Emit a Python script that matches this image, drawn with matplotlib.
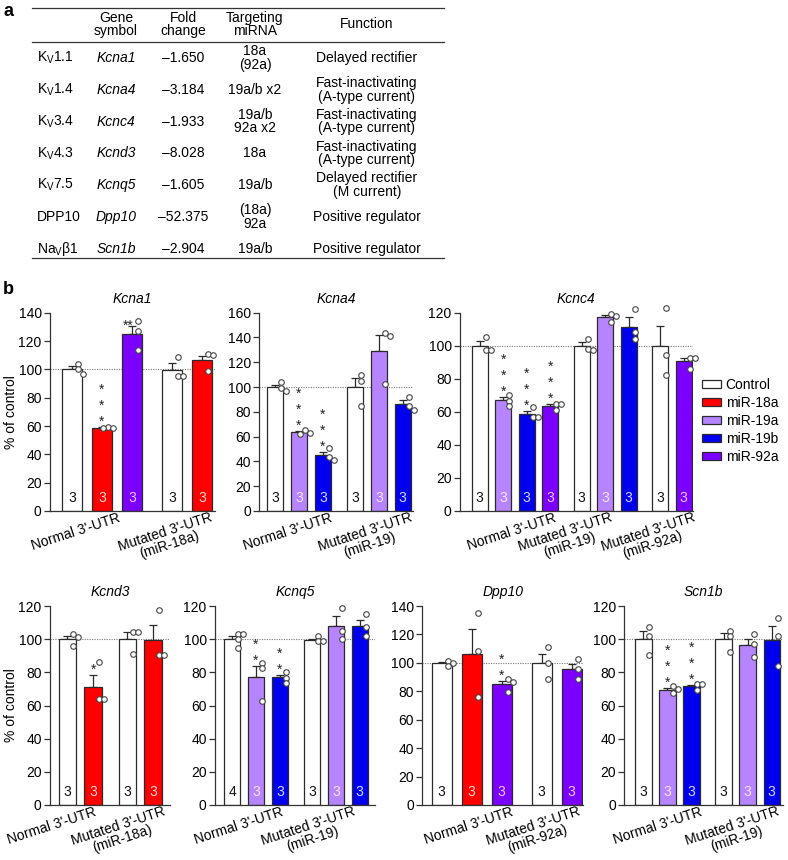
import numpy as np
import matplotlib
matplotlib.use('Agg')
import matplotlib.pyplot as plt
from matplotlib.patches import Patch
from matplotlib.lines import Line2D
from matplotlib.transforms import ScaledTranslation

plt.rcParams['font.family'] = ['Liberation Sans', 'DejaVu Sans']
plt.rcParams['mathtext.default'] = 'regular'
plt.rcParams['font.size'] = 10

# ---------------- panel a: table data ----------------
table_header = ['Gene\nsymbol', 'Fold\nchange', 'Targeting\nmiRNA', 'Function']
channels = ['K$_V$1.1', 'K$_V$1.4', 'K$_V$3.4', 'K$_V$4.3', 'K$_V$7.5', 'DPP10', 'Na$_V$\u03b21']
genes = ['Kcna1', 'Kcna4', 'Kcnc4', 'Kcnd3', 'Kcnq5', 'Dpp10', 'Scn1b']
fold_change = [-1.650, -3.184, -1.933, -8.028, -1.605, -52.375, -2.904]
targeting = ['18a\n(92a)', '19a/b x2', '19a/b\n92a x2', '18a', '19a/b', '(18a)\n92a', '19a/b']
functions = ['Delayed rectifier', 'Fast-inactivating\n(A-type current)',
             'Fast-inactivating\n(A-type current)', 'Fast-inactivating\n(A-type current)',
             'Delayed rectifier\n(M current)', 'Positive regulator', 'Positive regulator']

# ---------------- panel b: bar data ----------------
legend_labels = ['Control', 'miR-18a', 'miR-19a', 'miR-19b', 'miR-92a']

kcna1_groups = ["Normal 3'-UTR", "Mutated 3'-UTR\n(miR-18a)"]
kcna1_conds = [['Control', 'miR-18a', 'miR-92a'], ['Control', 'miR-18a']]
kcna1_mean = [100, 58.8, 125, 99.7, 106.5]
kcna1_err = [2.4, 0.6, 5.6, 4.7, 2.8]
kcna1_pts = [[104, 100, 97], [59.3, 58.8, 58.4], [134, 127, 114], [109, 95, 95], [111, 110, 98.5]]
kcna1_n = [3, 3, 3, 3, 3]
kcna1_sig = ['', '***', '**', '', '']

kcna4_groups = ["Normal 3'-UTR", "Mutated 3'-UTR\n(miR-19)"]
kcna4_conds = [['Control', 'miR-19a', 'miR-19b'], ['Control', 'miR-19a', 'miR-19b']]
kcna4_mean = [100, 63.4, 45.2, 100, 129, 86.2]
kcna4_err = [2.0, 1.0, 2.7, 7.0, 13.4, 3.4]
kcna4_pts = [[104, 99.5, 97], [65.3, 62.2, 62.6], [50.5, 41.5, 43.5], [110, 105, 85], [143.3, 141.4, 102.4], [92.2, 85, 81.5]]
kcna4_n = [3, 3, 3, 3, 3, 3]
kcna4_sig = ['', '***', '***', '', '', '']

kcnc4_groups = ["Normal 3'-UTR", "Mutated 3'-UTR\n(miR-19)", "Mutated 3'-UTR\n(miR-92a)"]
kcnc4_conds = [['Control', 'miR-19a', 'miR-19b', 'miR-92a'], ['Control', 'miR-19a', 'miR-19b'], ['Control', 'miR-92a']]
kcnc4_mean = [100, 66.9, 59.0, 63.4, 99.8, 117.1, 111.5, 99.9, 90.5]
kcnc4_err = [2.9, 2.0, 1.6, 1.5, 2.5, 1.5, 5.7, 12.1, 2.0]
kcnc4_pts = [[105.5, 97.4, 97.4], [70.2, 66.8, 63.7], [62.7, 57.1, 57.1], [64.5, 64.5, 61.1],
             [104.3, 97.8, 97.4], [119, 118.2, 114.2], [122, 108.5, 103.9], [123, 94.4, 82.3], [92.8, 92.8, 85.9]]
kcnc4_n = [3, 3, 3, 3, 3, 3, 3, 3, 3]
kcnc4_sig = ['', '***', '***', '***', '', '', '', '', '']

kcnd3_groups = ["Normal 3'-UTR", "Mutated 3'-UTR\n(miR-18a)"]
kcnd3_conds = [['Control', 'miR-18a'], ['Control', 'miR-18a']]
kcnd3_mean = [100.2, 71.4, 100, 99.5]
kcnd3_err = [1.8, 7.0, 4.5, 9.0]
kcnd3_pts = [[103.1, 101.5, 95.9], [86.2, 63.9, 63.9], [104.5, 104.5, 90.9], [117.6, 90.5, 90.5]]
kcnd3_n = [3, 3, 3, 3]
kcnd3_sig = ['', '*', '', '']

kcnq5_groups = ["Normal 3'-UTR", "Mutated 3'-UTR\n(miR-19)"]
kcnq5_conds = [['Control', 'miR-19a', 'miR-19b'], ['Control', 'miR-19a', 'miR-19b']]
kcnq5_mean = [100.1, 77, 76.9, 99.7, 108.1, 108.2]
kcnq5_err = [1.9, 6.8, 1.5, 0.5, 5.9, 3.5]
kcnq5_pts = [[103.1, 103.1, 99.9, 94.5], [85.8, 82.4, 62.7], [80.4, 76.8, 73.4], [102.1, 98.9, 98.9], [119, 104.9, 100.1], [115.2, 107.5, 102.1]]
kcnq5_n = [4, 3, 3, 3, 3, 3]
kcnq5_sig = ['', '**', '**', '', '', '']

dpp10_groups = ["Normal 3'-UTR", "Mutated 3'-UTR\n(miR-92a)"]
dpp10_conds = [['Control', 'miR-18a', 'miR-92a'], ['Control', 'miR-92a']]
dpp10_mean = [99.8, 106.5, 84.9, 99.9, 95.5]
dpp10_err = [0.8, 17.3, 2.6, 6.0, 3.8]
dpp10_pts = [[101.5, 100, 98], [134.8, 108.6, 76.2], [88.4, 86.8, 79.5], [110.9, 100.1, 88.6], [102.5, 95.7, 88.4]]
dpp10_n = [3, 3, 3, 3, 3]
dpp10_sig = ['', '', '**', '', '']

scn1b_groups = ["Normal 3'-UTR", "Mutated 3'-UTR\n(miR-19)"]
scn1b_conds = [['Control', 'miR-19a', 'miR-19b'], ['Control', 'miR-19a', 'miR-19b']]
scn1b_mean = [99.9, 69.6, 71.5, 99.9, 96.4, 99.4]
scn1b_err = [5.0, 1.0, 1.0, 4.0, 3.6, 8.4]
scn1b_pts = [[107.1, 102.1, 90.5], [71.8, 69.7, 67.3], [72.8, 72.8, 69.3], [105.1, 102.1, 92.5], [103.1, 97.1, 89], [112.6, 101.9, 83.8]]
scn1b_n = [3, 3, 3, 3, 3, 3]
scn1b_sig = ['', '***', '***', '', '', '']

# ---------------- styles ----------------
cond_colors = {'Control': '#FFFFFF', 'miR-18a': '#FF0000', 'miR-19a': '#B784FF',
               'miR-19b': '#0000EE', 'miR-92a': '#7C00FF'}
n_colors = {'Control': '#111111', 'miR-18a': '#FFD8D8', 'miR-19a': '#F4E8FF',
            'miR-19b': '#D8D8FF', 'miR-92a': '#F2C8FF'}
EDGE = '#2a2a2a'

W, H = 788, 860
fig = plt.figure(figsize=(W / 100, H / 100), dpi=100)


def fx(x):
    return x / W


def fy(y):
    return 1 - y / H


# ---------------- panel a ----------------
fig.text(fx(3), fy(12), 'a', fontsize=13, fontweight='bold', ha='left', va='center')
fig.text(fx(3), fy(290), 'b', fontsize=13, fontweight='bold', ha='left', va='center')
for yy in (8, 41.7, 257.7):
    fig.add_artist(Line2D([fx(32), fx(444)], [fy(yy), fy(yy)], transform=fig.transFigure,
                          color='#333333', lw=0.9))
col_x = [116, 183, 255, 367]
for cx, h in zip(col_x, table_header):
    fig.text(fx(cx), fy(24.5), h, ha='center', va='center', linespacing=0.95)
for i in range(len(genes)):
    yy = fy(58 + 31.8 * i)
    fig.text(fx(37), yy, channels[i], ha='left', va='center')
    fig.text(fx(col_x[0]), yy, genes[i], ha='center', va='center', style='italic')
    fig.text(fx(col_x[1]), yy, '\u2013%.3f' % abs(fold_change[i]), ha='center', va='center')
    fig.text(fx(col_x[2]), yy, targeting[i], ha='center', va='center', linespacing=0.95)
    fig.text(fx(col_x[3]), yy, functions[i], ha='center', va='center', linespacing=0.95)

# ---------------- panel b ----------------
TOP = (511, 312.7)
BOT = (805, 606)
panels = [
    dict(gene='Kcna1', groups=kcna1_groups, conds=kcna1_conds, mean=kcna1_mean, err=kcna1_err,
         pts=kcna1_pts, n=kcna1_n, sig=kcna1_sig, ymax=140, px=(50, 215) + TOP,
         xlim=(-0.733, 4.77), ldx=[-14, 8], ylabel=True),
    dict(gene='Kcna4', groups=kcna4_groups, conds=kcna4_conds, mean=kcna4_mean, err=kcna4_err,
         pts=kcna4_pts, n=kcna4_n, sig=kcna4_sig, ymax=160, px=(259.3, 413) + TOP,
         xlim=(-0.656, 5.76), ldx=[7, 7], ylabel=False),
    dict(gene='Kcnc4', groups=kcnc4_groups, conds=kcnc4_conds, mean=kcnc4_mean, err=kcnc4_err,
         pts=kcnc4_pts, n=kcnc4_n, sig=kcnc4_sig, ymax=120, px=(460, 692.7) + TOP,
         xlim=(-0.837, 9.05), ldx=[3, -19, 9], ylabel=False),
    dict(gene='Kcnd3', groups=kcnd3_groups, conds=kcnd3_conds, mean=kcnd3_mean, err=kcnd3_err,
         pts=kcnd3_pts, n=kcnd3_n, sig=kcnd3_sig, ymax=120, px=(50, 170) + BOT,
         xlim=(-0.68, 4.0), ldx=[0, 10], ylabel=True),
    dict(gene='Kcnq5', groups=kcnq5_groups, conds=kcnq5_conds, mean=kcnq5_mean, err=kcnq5_err,
         pts=kcnq5_pts, n=kcnq5_n, sig=kcnq5_sig, ymax=120, px=(215, 375) + BOT,
         xlim=(-0.71, 5.97), ldx=[1, -7], ylabel=False),
    dict(gene='Dpp10', groups=dpp10_groups, conds=dpp10_conds, mean=dpp10_mean, err=dpp10_err,
         pts=dpp10_pts, n=dpp10_n, sig=dpp10_sig, ymax=140, px=(422.3, 583) + BOT,
         xlim=(-0.647, 4.71), ldx=[9, 6], ylabel=False),
    dict(gene='Scn1b', groups=scn1b_groups, conds=scn1b_conds, mean=scn1b_mean, err=scn1b_err,
         pts=scn1b_pts, n=scn1b_n, sig=scn1b_sig, ymax=120, px=(624.3, 783) + BOT,
         xlim=(-0.79, 5.8), ldx=[8, 5], ylabel=False),
]

DOT_D = 4.5  # px, minimal centre distance between dots
cand_px = [6, 11, 1, 16, -4, 21]

for P in panels:
    l, r, y0, yt = P['px']
    ax = fig.add_axes([fx(l), fy(y0), fx(r - l), (y0 - yt) / H])
    ax.set_xlim(*P['xlim'])
    ax.set_ylim(0, P['ymax'])
    for s in ('top', 'right'):
        ax.spines[s].set_visible(False)
    for s in ('left', 'bottom'):
        ax.spines[s].set_linewidth(0.9)
        ax.spines[s].set_color('#333333')
    ax.set_yticks(np.arange(0, P['ymax'] + 1, 20))
    ax.tick_params(axis='y', length=4, width=0.9, color='#333333', labelsize=10, pad=2)
    ax.set_xticks([])
    ax.set_facecolor('none')

    # positions
    pos, cols, group_last = [], [], []
    x = 0.0
    for g in P['conds']:
        for c in g:
            pos.append(x)
            cols.append(c)
            x += 1
        group_last.append(x - 1)
        x += 1 / 3
    pos = np.array(pos)

    ax.axhline(100, color='#777777', lw=0.8, ls=(0, (1, 1.2)), zorder=0.5)
    ax.bar(pos, P['mean'], width=0.68, color=[cond_colors[c] for c in cols],
           edgecolor=EDGE, linewidth=0.9, zorder=2)
    ax.errorbar(pos, P['mean'], yerr=[np.zeros(len(pos)), P['err']], fmt='none',
                ecolor=EDGE, elinewidth=0.9, capsize=3, capthick=0.9, zorder=1.9)

    # beeswarm-like dot placement
    tr = ax.transData
    for xi, pts in zip(pos, P['pts']):
        placed = []
        for v in sorted(pts, reverse=True):
            cx_px, cy_px = tr.transform((xi, v))
            chosen = None
            for dx in cand_px:
                ok = all(np.hypot(cx_px + dx - px_, cy_px - py_) >= DOT_D for px_, py_ in placed)
                if ok:
                    chosen = dx
                    break
            if chosen is None:
                chosen = cand_px[0]
            placed.append((cx_px + chosen, cy_px))
        disp = np.array(placed)
        dat = tr.inverted().transform(disp)
        ax.plot(dat[:, 0], dat[:, 1], 'o', ms=4.0, mfc='white', mec='#444444', mew=0.8,
                zorder=4, clip_on=False)

    # n labels
    for xi, n, c in zip(pos, P['n'], cols):
        ax.annotate(str(n), (xi, 0), xytext=(0, 9.5), textcoords='offset points',
                    ha='center', va='center', fontsize=10, color=n_colors[c], zorder=5)

    # significance stars
    axes_h = y0 - yt
    for xi, m, e, s in zip(pos, P['mean'], P['err'], P['sig']):
        if not s:
            continue
        top = m + e
        top_px = top / P['ymax'] * axes_h
        if top_px + 12 * len(s) + 4 > axes_h:
            ax.annotate(s, (xi, top), xytext=(-3, 0), textcoords='offset points',
                        ha='center', va='center', fontsize=10, color='#222222', zorder=5)
        else:
            ax.annotate('\n'.join(s), (xi, top), xytext=(0, -1.5), textcoords='offset points',
                        ha='center', va='bottom', fontsize=10, color='#222222', zorder=5)

    # group labels
    for gl, gx, dx in zip(P['groups'], group_last, P['ldx']):
        off = ScaledTranslation(dx / 100, 0.5 / 100, fig.dpi_scale_trans)
        ax.text(gx, 0, gl, transform=ax.get_xaxis_transform() + off, rotation=18,
                rotation_mode='anchor', ha='right', va='top', multialignment='center',
                fontsize=10, linespacing=0.92)

    ax.set_title(P['gene'], style='italic', fontsize=10, pad=7)
    if P['ylabel']:
        ax.set_ylabel('% of control', fontsize=10)
        ax.yaxis.set_label_coords((18 - l) / (r - l), 0.5)

handles = [Patch(facecolor=cond_colors[c], edgecolor=EDGE, linewidth=0.9, label=c) for c in legend_labels]
fig.legend(handles=handles, loc='upper left', bbox_to_anchor=(fx(702), fy(378)), frameon=False,
           handlelength=1.35, handleheight=0.5, handletextpad=0.35, labelspacing=0.28,
           borderpad=0, borderaxespad=0, fontsize=10)

fig.savefig('out.png', dpi=100)
